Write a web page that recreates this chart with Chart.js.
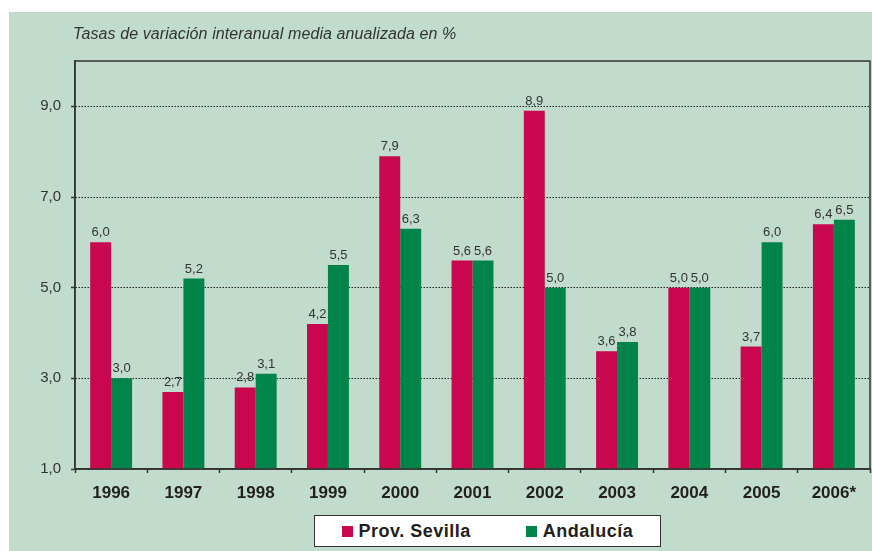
<html><head>
<style>
  body {
    margin: 0;
    background: #fff;
    font-family: "Liberation Sans", Arial, sans-serif;
  }
  .panel {
    position: absolute;
    left: 9px;
    top: 12px;
    width: 863px;
    height: 539px;
    background: #c1dccd;
  }
  #chart {
    position: absolute;
    left: 0;
    top: 0;
  }
  .title {
    position: absolute;
    left: 64px;
    top: 13px;
    font-size: 16px;
    letter-spacing: 0.1px;
    font-style: italic;
    color: #333;
  }
  .legend {
    position: absolute;
    left: 305px;
    top: 503px;
    width: 345px;
    height: 30px;
    background: #fff;
    border: 1.5px solid #333;
    display: flex;
    align-items: center;
    justify-content: center;
    gap: 55px;
    font-size: 18px;
    letter-spacing: 0.5px;
    font-weight: bold;
    color: #231f20;
  }
  .legend-item {
    display: flex;
    align-items: center;
    gap: 6px;
  }
  .legend-color {
    width: 11px;
    height: 11px;
  }
</style>
<script src="https://cdn.jsdelivr.net/npm/chart.js"></script>
</head>
<body>
<div class="panel">
  <canvas id="chart" width="863" height="539"></canvas>
  <div class="title">Tasas de variación interanual media anualizada en %</div>
  <div class="legend" id="legend"></div>
</div>

<script>
const years = ['1996', '1997', '1998', '1999', '2000', '2001', '2002', '2003', '2004', '2005', '2006*'];
const sevilla = [6.0, 2.7, 2.8, 4.2, 7.9, 5.6, 8.9, 3.6, 5.0, 3.7, 6.4];
const andalucia = [3.0, 5.2, 3.1, 5.5, 6.3, 5.6, 5.0, 3.8, 5.0, 6.0, 6.5];
const yTicks = [1, 3, 5, 7, 9];

const seriesNames = ['Prov. Sevilla', 'Andalucía'];
const seriesColors = ['#c9074f', '#00844a'];

function fmt(v) {
  return v.toFixed(1).replace('.', ',');
}

// value labels above each bar
const valueLabels = {
  id: 'valueLabels',
  afterDatasetsDraw(chart) {
    const ctx = chart.ctx;
    ctx.save();
    ctx.font = '13px "Liberation Sans", Arial, sans-serif';
    ctx.fillStyle = '#333';
    ctx.textAlign = 'center';
    ctx.textBaseline = 'bottom';
    chart.data.datasets.forEach((ds, i) => {
      chart.getDatasetMeta(i).data.forEach((bar, j) => {
        ctx.fillText(fmt(ds.data[j]), bar.x, bar.y - 3);
      });
    });
    ctx.restore();
  }
};

// solid frame round the plot area
const frame = {
  id: 'frame',
  afterDraw(chart) {
    const a = chart.chartArea;
    const ctx = chart.ctx;
    ctx.save();
    ctx.strokeStyle = '#333';
    ctx.lineWidth = 1.5;
    ctx.strokeRect(a.left, a.top, a.right - a.left, a.bottom - a.top);
    ctx.restore();
  }
};

const ctx = document.getElementById('chart').getContext('2d');
new Chart(ctx, {
  type: 'bar',
  data: {
    labels: years,
    datasets: [
      { label: seriesNames[0], data: sevilla, backgroundColor: seriesColors[0] },
      { label: seriesNames[1], data: andalucia, backgroundColor: seriesColors[1] }
    ]
  },
  options: {
    responsive: false,
    animation: false,
    devicePixelRatio: 1,
    layout: { padding: { top: 49, right: 2, left: 0, bottom: 0 } },
    datasets: {
      bar: { categoryPercentage: 0.58, barPercentage: 1.0 }
    },
    scales: {
      y: {
        min: 1,
        max: 10,
        afterBuildTicks: s => { s.ticks = yTicks.map(v => ({ value: v })); },
        afterFit: s => { s.width = 66; },
        grid: {
          color: '#222',
          lineWidth: 1,
          tickLength: 4,
          tickColor: '#333',
          tickBorderDash: [],
          tickWidth: 1.5
        },
        border: { display: true, color: '#333', width: 1.5, dash: [1.5, 1.5] },
        ticks: {
          padding: 10,
          color: '#333',
          font: { size: 15, family: '"Liberation Sans", Arial, sans-serif' },
          callback: v => fmt(v)
        }
      },
      x: {
        afterFit: s => { s.height = 82; },
        grid: {
          offset: true,
          drawOnChartArea: false,
          tickLength: 4,
          tickColor: '#333',
          tickWidth: 1.5
        },
        border: { display: true, color: '#333', width: 1.5 },
        ticks: {
          padding: 10,
          color: '#231f20',
          font: { size: 17, weight: 'bold', family: '"Liberation Sans", Arial, sans-serif' }
        }
      }
    },
    plugins: {
      legend: { display: false },
      tooltip: { enabled: false }
    }
  },
  plugins: [valueLabels, frame]
});

const legend = document.getElementById('legend');
seriesNames.forEach((name, i) => {
  legend.innerHTML += '<div class="legend-item"><div class="legend-color" style="background:' +
    seriesColors[i] + '"></div><span>' + name + '</span></div>';
});
</script>
</body></html>
